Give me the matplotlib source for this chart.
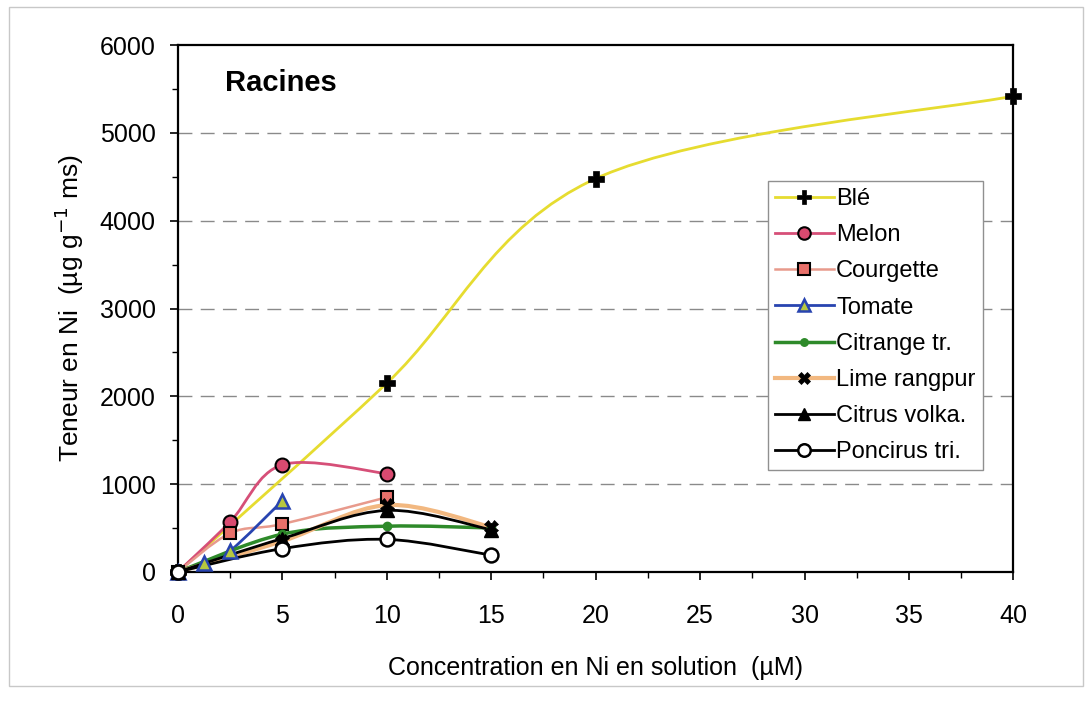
import numpy as np
import matplotlib.pyplot as plt
from matplotlib.path import Path
from matplotlib.patches import PathPatch, Rectangle
from matplotlib.lines import Line2D

plt.rcParams['font.family'] = ['Liberation Sans', 'DejaVu Sans']

# --- data ---
ble_x = [0, 10, 20, 40]
ble_y = [0, 2150, 4480, 5420]

melon_x = [0, 2.5, 5, 10]
melon_y = [0, 570, 1220, 1120]

courgette_x = [0, 2.5, 5, 10]
courgette_y = [0, 440, 545, 850]

tomate_x = [0, 1.25, 2.5, 5]
tomate_y = [0, 100, 240, 810]

citrange_x = [0, 5, 10, 15]
citrange_y = [0, 430, 520, 500]

lime_x = [0, 5, 10, 15]
lime_y = [0, 350, 760, 510]

volka_x = [0, 5, 10, 15]
volka_y = [0, 380, 700, 480]

poncirus_x = [0, 5, 10, 15]
poncirus_y = [0, 265, 370, 190]

x_ticks = [0, 5, 10, 15, 20, 25, 30, 35, 40]
y_ticks = [0, 1000, 2000, 3000, 4000, 5000, 6000]

# label, x, y, line colour, line width, marker, size, face, edge, mew
series = [
    ("Blé", ble_x, ble_y, '#e6dc30', 2.0, 'P', 11, 'black', 'black', 0.5),
    ("Melon", melon_x, melon_y, '#d64f78', 2.0, 'o', 10, '#d84a70', 'black', 1.5),
    ("Courgette", courgette_x, courgette_y, '#e89a8c', 1.8, 's', 9, '#e8706a', 'black', 1.5),
    ("Tomate", tomate_x, tomate_y, '#2844b0', 2.0, '^', 10, '#b8c840', '#2844b0', 1.8),
    ("Citrange tr.", citrange_x, citrange_y, '#2e8a2a', 2.5, 'o', 6, '#2e8a2a', '#2e8a2a', 1.0),
    ("Lime rangpur", lime_x, lime_y, '#f2b880', 3.0, 'X', 10, 'black', 'black', 0.5),
    ("Citrus volka.", volka_x, volka_y, 'black', 2.0, '^', 10, 'black', 'black', 1.0),
    ("Poncirus tri.", poncirus_x, poncirus_y, 'black', 2.0, 'o', 10, 'white', 'black', 1.8),
]


def smooth_path(xs, ys):
    # Excel-like smoothed line: cubic Bezier with Catmull-Rom control points
    p = np.column_stack([xs, ys]).astype(float)
    n = len(p)
    verts = [p[0]]
    codes = [Path.MOVETO]
    for i in range(n - 1):
        p0 = p[i - 1] if i > 0 else p[i]
        p3 = p[i + 2] if i + 2 < n else p[i + 1]
        c1 = p[i] + (p[i + 1] - p0) / 6.0
        c2 = p[i + 1] - (p3 - p[i]) / 6.0
        verts += [c1, c2, p[i + 1]]
        codes += [Path.CURVE4] * 3
    return Path(verts, codes)


fig = plt.figure(figsize=(10.92, 7.06), dpi=100, facecolor='white')
ax = fig.add_axes([0.163, 0.190, 0.765, 0.746])

# light frame around the whole figure
fig.patches.append(Rectangle((0.008, 0.028), 0.984, 0.962, transform=fig.transFigure,
                             fill=False, edgecolor='#c8c8c8', linewidth=1.0))

for y in y_ticks[1:-1]:
    ax.axhline(y, color='#8a8a8a', linewidth=1.0, dashes=(10, 6), zorder=1)

handles = []
for i, (lab, xs, ys, lc, lw, mk, ms, fc, ec, mew) in enumerate(series):
    ax.add_patch(PathPatch(smooth_path(xs, ys), fill=False, edgecolor=lc,
                           linewidth=lw, zorder=2 + i * 0.01, capstyle='round'))
    ax.plot(xs, ys, linestyle='none', marker=mk, markersize=ms,
            markerfacecolor=fc, markeredgecolor=ec, markeredgewidth=mew,
            zorder=5 + i * 0.01, clip_on=False)
    handles.append(Line2D([], [], color=lc, linewidth=lw, marker=mk,
                          markersize=ms * 0.9, markerfacecolor=fc,
                          markeredgecolor=ec, markeredgewidth=mew, label=lab))

ax.set_xlim(0, 40)
ax.set_ylim(0, 6000)
ax.set_xticks(x_ticks)
ax.set_yticks(y_ticks)
ax.set_xticks(np.arange(0, 40.1, 2.5), minor=True)
ax.set_yticks(np.arange(0, 6001, 500), minor=True)
ax.tick_params(axis='both', which='major', direction='out', length=6,
               width=1.2, labelsize=18, pad=10)
ax.tick_params(axis='x', which='major', pad=17)
ax.tick_params(axis='both', which='minor', direction='out', length=4, width=1.0)
for s in ax.spines.values():
    s.set_linewidth(1.6)

ax.set_xlabel('Concentration en Ni en solution  (µM)', fontsize=18, labelpad=20)
ax.set_ylabel('Teneur en Ni  (µg g$^{-1}$ ms)', fontsize=19, labelpad=10)

ax.text(0.056, 0.955, 'Racines', transform=ax.transAxes, fontsize=21,
        fontweight='bold', va='top', ha='left')

leg = ax.legend(handles=handles, loc='upper left', bbox_to_anchor=(0.706, 0.742),
                fontsize=17, frameon=True, fancybox=False, framealpha=1,
                edgecolor='#909090', handlelength=2.5, handletextpad=0.1,
                labelspacing=0.6, borderpad=0.3, borderaxespad=0)
leg.get_frame().set_linewidth(1.0)

fig.savefig('out.png', dpi=100, facecolor='white')
